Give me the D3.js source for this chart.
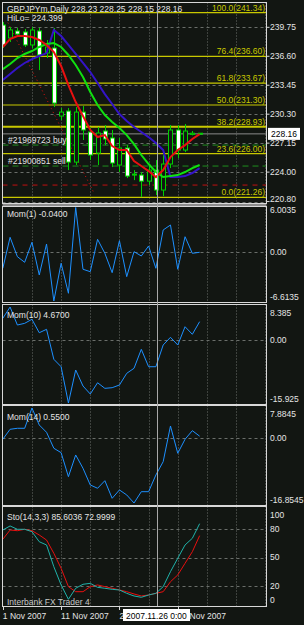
<!DOCTYPE html>
<html>
<head>
<meta charset="utf-8">
<script src="https://cdn.jsdelivr.net/npm/d3@7"></script>
<style>
  html, body { margin: 0; padding: 0; background: #121612; }
  svg text { font-family: "Liberation Sans", Arial, sans-serif; font-size: 8.5px; }
</style>
</head>
<body>
<div id="svg-container"></div>
<script>
////////////////////////////////////////////////////////////////////
////////////////////////////  Data  ////////////////////////////////
// daily bars, 1 Nov 2007 .. 2 Dec 2007 (MT4 with sunday bars)
const opens  = [240.00, 238.59, 239.35, 239.24, 237.83, 239.35, 236.95, 237.50, 230.10, 230.64, 225.09, 230.53, 228.36, 226.07,
                228.47, 227.71, 224.77, 226.62, 223.79, 223.68, 223.02, 224.22, 222.05, 224.88, 228.58, 226.40, 228.10, 228.23];
const highs  = [240.33, 239.78, 239.68, 239.57, 239.78, 239.68, 238.37, 239.68, 230.97, 230.97, 231.08, 231.19, 228.90, 228.90,
                229.12, 228.58, 227.71, 226.94, 224.22, 224.01, 224.77, 225.31, 225.86, 229.12, 229.12, 229.23, 228.47, 228.25];
const lows   = [237.50, 238.15, 238.70, 237.61, 237.50, 235.10, 236.41, 231.08, 229.66, 224.22, 224.77, 227.49, 225.31, 224.77,
                226.94, 224.55, 224.01, 223.35, 223.13, 221.28, 222.59, 221.50, 221.39, 224.44, 225.53, 226.18, 228.00, 228.15];
const closes = [237.83, 239.46, 239.02, 237.83, 239.46, 236.74, 237.61, 231.51, 230.53, 225.09, 230.53, 228.58, 225.86, 228.25,
                227.60, 224.99, 226.62, 223.57, 223.68, 223.02, 224.22, 222.05, 224.88, 228.58, 226.40, 228.47, 228.23, 228.16];

const maRed   = [237.61, 238.48, 238.80, 238.80, 238.70, 238.37, 237.83, 237.06, 235.54, 233.47, 231.62, 230.10, 228.58, 227.81,
                 228.03, 226.84, 226.40, 226.40, 225.20, 224.66, 224.11, 223.46, 224.22, 225.64, 226.40, 226.94, 227.60, 228.14];
const maGreen = [235.21, 235.76, 236.41, 236.85, 237.17, 237.61, 237.93, 238.04, 237.61, 236.74, 235.65, 234.34, 232.71, 231.30,
                 230.21, 229.45, 228.79, 228.03, 227.05, 225.86, 224.88, 224.01, 223.46, 223.57, 223.68, 224.01, 224.44, 224.77];
const maBlue  = [234.02, 234.67, 235.32, 235.87, 236.30, 236.63, 236.95, 239.46, 238.80, 237.83, 236.85, 235.87, 234.89, 233.69,
                 232.49, 231.41, 230.32, 229.56, 228.90, 228.36, 227.81, 227.16, 226.40, 223.46, 223.46, 223.57, 223.90, 224.44];

const mom1  = [-2.20, 1.98, -0.63, -1.39, 1.31, -3.10, 1.08, -6.6135, -1.52, -5.57, 6.0035, -2.33, -2.66, 1.71,
               -0.18, -2.79, 1.52, -3.33, 0.04, -0.54, 0.81, -2.20, 2.97, 3.64, -2.33, 2.06, -0.18, -0.04];
const mom10 = [5.52, 8.385, 3.82, 4.25, 5.27, 1.87, 2.73, -4.86, -6.74, -15.925, -7.57, -11.62, -13.65, -10.79,
               -12.21, -12.05, -11.37, -8.41, -7.14, -2.33, -6.74, -6.74, -1.24, 0.71, -1.24, 3.39, 1.47, 4.67];
const mom14 = [-0.26, 2.34, 2.60, 2.60, 7.8845, 3.46, 1.56, -2.60, -3.75, -10.00, -4.35, -7.81, -12.16, -13.02,
               -11.04, -15.63, -13.46, -14.76, -16.8545, -13.91, -13.91, -9.56, -6.09, 3.20, -3.91, -0.26, 1.98, 0.55];
const stoMain   = [78.9, 83.2, 79.7, 79.7, 77.2, 66.6, 63.2, 40.3, 21.1, 6.0, 17.6, 21.8, 22.8, 18.6,
                   17.6, 16.5, 15.8, 12.3, 9.5, 8.1, 10.5, 12.3, 19.3, 35.1, 49.2, 63.2, 70.2, 85.6];
const stoSignal = [69.2, 78.9, 78.2, 79.7, 78.2, 73.7, 68.4, 54.4, 38.6, 19.3, 14.0, 14.0, 19.3, 21.1,
                   19.3, 17.6, 15.8, 14.0, 11.6, 9.5, 10.5, 12.3, 14.0, 24.5, 31.6, 43.9, 56.1, 73.0];

const priceTicks = [239.75, 236.60, 233.45, 230.30, 227.15, 224.00, 220.80];
const fibLevels = ["100.0", "76.4", "61.8", "50.0", "38.2", "23.6", "0.0"];
const fibPrices = [241.34, 236.60, 233.67, 231.30, 228.93, 226.00, 221.26];
const dateLabels = ["1 Nov 2007", "11 Nov 2007", "20 Nov 2007", "29 Nov 2007"];
const dateBars = [0, 8, 16, 24];
const stoTicks = [100, 80, 50, 20, 0];

const bid = 228.16;
const buyLevel = 226.94, sellLevel = 224.66, stopLevel = 222.59;
const trendPts = [[0.7, 240.26], [12.4, 221.90]]; // red dotted trendline

////////////////////////////////////////////////////////////////////
////////////////////////////  Init  ////////////////////////////////
const width = 304, height = 625;
const left = 2.5, right = 266.5;
const bg = "#121612";
const gridColor = "#6a6e6a";
const fibColor = "#c8c800";
const textColor = "#e4e4e4";

const svg = d3.select("#svg-container").append("svg")
  .attr("width", width).attr("height", height);

svg.append("rect").attr("width", width).attr("height", height).attr("fill", bg);

const x = d3.scaleLinear().domain([0, 36]).range([2.8, 2.8 + 36 * 7.29]);
const bars = d3.range(closes.length);

// panels
const panels = [
  { top: 2.5, bottom: 203.5 },
  { top: 206.5, bottom: 302.5 },
  { top: 304.5, bottom: 404.5 },
  { top: 405.5, bottom: 505.5 },
  { top: 506.5, bottom: 606.5 },
];

const yMain = d3.scaleLinear().domain([221.26, 241.34]).range([197.3, 12.7]);
const yMom1 = d3.scaleLinear().domain([-6.6135, 6.0035]).range([301, 207.5]);
const yMom10 = d3.scaleLinear().domain([-15.925, 8.385]).range([403, 307]);
const yMom14 = d3.scaleLinear().domain([-16.8545, 7.8845]).range([503, 408]);
const ySto = d3.scaleLinear().domain([0, 100]).range([605, 510]);

const defs = svg.append("defs");
panels.forEach((p, i) => {
  defs.append("clipPath").attr("id", "clip" + i)
    .append("rect").attr("x", left).attr("y", p.top)
    .attr("width", right - left).attr("height", p.bottom - p.top);
});

const gp = panels.map((p, i) => svg.append("g").attr("clip-path", `url(#clip${i})`));

////////////////////////////////////////////////////////////////////
////////////////////////////  Grid  ////////////////////////////////
const gridBars = d3.range(4, 37, 4);
panels.forEach((p, i) => {
  gp[i].selectAll(".vgrid").data(gridBars).enter().append("line")
    .attr("x1", (d) => Math.round(x(d)) + 0.5).attr("x2", (d) => Math.round(x(d)) + 0.5)
    .attr("y1", p.top).attr("y2", p.bottom)
    .attr("stroke", gridColor).attr("stroke-width", 1)
    .attr("stroke-dasharray", "1,2");
});

const hgrid = (g, ys) => {
  g.selectAll(".hgrid").data(ys).enter().append("line")
    .attr("x1", left).attr("x2", right)
    .attr("y1", (d) => Math.round(d) + 0.5).attr("y2", (d) => Math.round(d) + 0.5)
    .attr("stroke", gridColor).attr("stroke-width", 1)
    .attr("stroke-dasharray", "3,3");
};
hgrid(gp[0], priceTicks.map((d) => yMain(d)));
hgrid(gp[1], [yMom1(0)]);
hgrid(gp[2], [yMom10(0)]);
hgrid(gp[3], [yMom14(0)]);
hgrid(gp[4], [80, 50, 20].map((d) => ySto(d)));

////////////////////////////////////////////////////////////////////
////////////////////////////  Main  ////////////////////////////////
const g = gp[0];

// fibo levels
g.selectAll(".fib").data(fibPrices).enter().append("line")
  .attr("x1", left).attr("x2", right)
  .attr("y1", (d) => yMain(d)).attr("y2", (d) => yMain(d))
  .attr("stroke", fibColor).attr("stroke-width", (d, i) => (i === 4 ? 2 : 1.2));

// order lines
const hline = (price, color, dash) =>
  g.append("line").attr("x1", left).attr("x2", right)
    .attr("y1", yMain(price)).attr("y2", yMain(price))
    .attr("stroke", color).attr("stroke-width", 1).attr("stroke-dasharray", dash);
hline(buyLevel, "#1f8f1f", "6,4");
hline(sellLevel, "#1f8f1f", "6,4");
hline(stopLevel, "#c01010", "5,5");
hline(bid, "#8a8a8a", null);

// trendline
g.append("line")
  .attr("x1", x(trendPts[0][0])).attr("y1", yMain(trendPts[0][1]))
  .attr("x2", x(trendPts[1][0])).attr("y2", yMain(trendPts[1][1]))
  .attr("stroke", "#e01010").attr("stroke-width", 1).attr("stroke-dasharray", "1,3");

// candles
g.selectAll(".wick").data(bars).enter().append("line")
  .attr("x1", (i) => Math.round(x(i)) + 0.5).attr("x2", (i) => Math.round(x(i)) + 0.5)
  .attr("y1", (i) => yMain(highs[i])).attr("y2", (i) => yMain(lows[i]))
  .attr("stroke", "#00d000").attr("stroke-width", 1);

g.selectAll(".body").data(bars).enter().append("rect")
  .attr("x", (i) => Math.round(x(i)) - 1.5)
  .attr("y", (i) => yMain(Math.max(opens[i], closes[i])))
  .attr("width", 4)
  .attr("height", (i) => Math.max(1, Math.abs(yMain(opens[i]) - yMain(closes[i]))))
  .attr("fill", (i) => (closes[i] < opens[i] ? "#ffffff" : bg))
  .attr("stroke", "#00d000").attr("stroke-width", 1);

// moving averages
const maLine = (vals, color) =>
  g.append("path").datum(vals)
    .attr("d", d3.line().x((d, i) => x(i)).y((d) => yMain(d)))
    .attr("fill", "none").attr("stroke", color).attr("stroke-width", 2);
maLine(maBlue, "#3414c8");
maLine(maGreen, "#10e010");
maLine(maRed, "#e81010");

// fibo texts
g.selectAll(".fibtext").data(fibPrices).enter().append("text")
  .attr("x", 265).attr("y", (d) => yMain(d) - 2)
  .attr("text-anchor", "end").attr("fill", fibColor)
  .text((d, i) => `${fibLevels[i]}(${d.toFixed(2)})`);

// order texts
g.append("text").attr("x", 8).attr("y", 143).attr("fill", textColor).text("#21969723 buy");
g.append("text").attr("x", 8).attr("y", 164).attr("fill", textColor).text("#21900851 sell");

g.append("text").attr("x", 7).attr("y", 12).attr("fill", textColor)
  .text("GBPJPYm,Daily  228.23 228.25 228.15 228.16");
g.append("text").attr("x", 7).attr("y", 21).attr("fill", textColor).text("HiLo= 224.399");

////////////////////////////////////////////////////////////////////
////////////////////////////  Indicators  //////////////////////////
const drawLine = (grp, vals, yScale, color) =>
  grp.append("path").datum(vals)
    .attr("d", d3.line().x((d, i) => x(i)).y((d) => yScale(d)))
    .attr("fill", "none").attr("stroke", color).attr("stroke-width", 1);

drawLine(gp[1], mom1, yMom1, "#1e90ff");
drawLine(gp[2], mom10, yMom10, "#1e90ff");
drawLine(gp[3], mom14, yMom14, "#1e90ff");
drawLine(gp[4], stoSignal, ySto, "#e81010");
drawLine(gp[4], stoMain, ySto, "#20b2aa");

gp[1].append("text").attr("x", 7).attr("y", 217).attr("fill", textColor).text("Mom(1) -0.0400");
gp[2].append("text").attr("x", 7).attr("y", 318).attr("fill", textColor).text("Mom(10) 4.6700");
gp[3].append("text").attr("x", 7).attr("y", 420).attr("fill", textColor).text("Mom(14) 0.5500");
gp[4].append("text").attr("x", 7).attr("y", 520).attr("fill", textColor).text("Sto(14,3,3) 85.6036 72.9999");
gp[4].append("text").attr("x", 7).attr("y", 605).attr("fill", "#c8c8c8").text("Interbank FX Trader 4");

////////////////////////////////////////////////////////////////////
////////////////////////////  Frames  //////////////////////////////
// separator between main and first sub window
svg.append("rect").attr("x", left).attr("y", 203.5).attr("width", right - left).attr("height", 3)
  .attr("fill", "#8c8c8c");

panels.forEach((p) => {
  svg.append("rect").attr("x", left).attr("y", p.top)
    .attr("width", right - left).attr("height", p.bottom - p.top)
    .attr("fill", "none").attr("stroke", "#d8d8d8").attr("stroke-width", 1);
});

// crosshair
const crossX = Math.round(x(21)) + 1.5;
svg.append("line").attr("x1", crossX).attr("x2", crossX).attr("y1", 3).attr("y2", 606)
  .attr("stroke", "#a8a8a8").attr("stroke-width", 1);

////////////////////////////////////////////////////////////////////
////////////////////////////  Axes  ////////////////////////////////
const axisText = (yPos, label) =>
  svg.append("text").attr("x", 270).attr("y", yPos).attr("dy", "0.35em")
    .attr("fill", textColor).text(label);

priceTicks.forEach((d) => {
  svg.append("line").attr("x1", right).attr("x2", right + 3)
    .attr("y1", yMain(d)).attr("y2", yMain(d)).attr("stroke", "#d8d8d8");
  axisText(Math.min(yMain(d), 199.5), d.toFixed(2));
});

// bid box
svg.append("rect").attr("x", 268).attr("y", yMain(bid) - 6).attr("width", 32).attr("height", 12)
  .attr("fill", "#ffffff");
svg.append("text").attr("x", 271).attr("y", yMain(bid)).attr("dy", "0.35em")
  .attr("fill", "#000").text(bid.toFixed(2));

axisText(210.5, "6.0035");
axisText(yMom1(0), "0.00");
axisText(297, "-6.6135");
axisText(313, "8.385");
axisText(yMom10(0), "0.00");
axisText(399, "-15.925");
axisText(414, "7.8845");
axisText(yMom14(0), "0.00");
axisText(500, "-16.8545");
stoTicks.forEach((d) => axisText(Math.min(Math.max(ySto(d), 515), 600), String(d)));

// time axis
dateBars.forEach((b, i) => {
  svg.append("line").attr("x1", Math.round(x(b)) + 0.5).attr("x2", Math.round(x(b)) + 0.5)
    .attr("y1", 606.5).attr("y2", 610).attr("stroke", "#d8d8d8");
  svg.append("text").attr("x", x(b)).attr("y", 619).attr("fill", textColor).text(dateLabels[i]);
});

// crosshair date box
svg.append("rect").attr("x", 123).attr("y", 609).attr("width", 67).attr("height", 12).attr("fill", "#ffffff");
svg.append("text").attr("x", 126).attr("y", 618.5).attr("fill", "#000").text("2007.11.26 0:00");
</script>
</body>
</html>
